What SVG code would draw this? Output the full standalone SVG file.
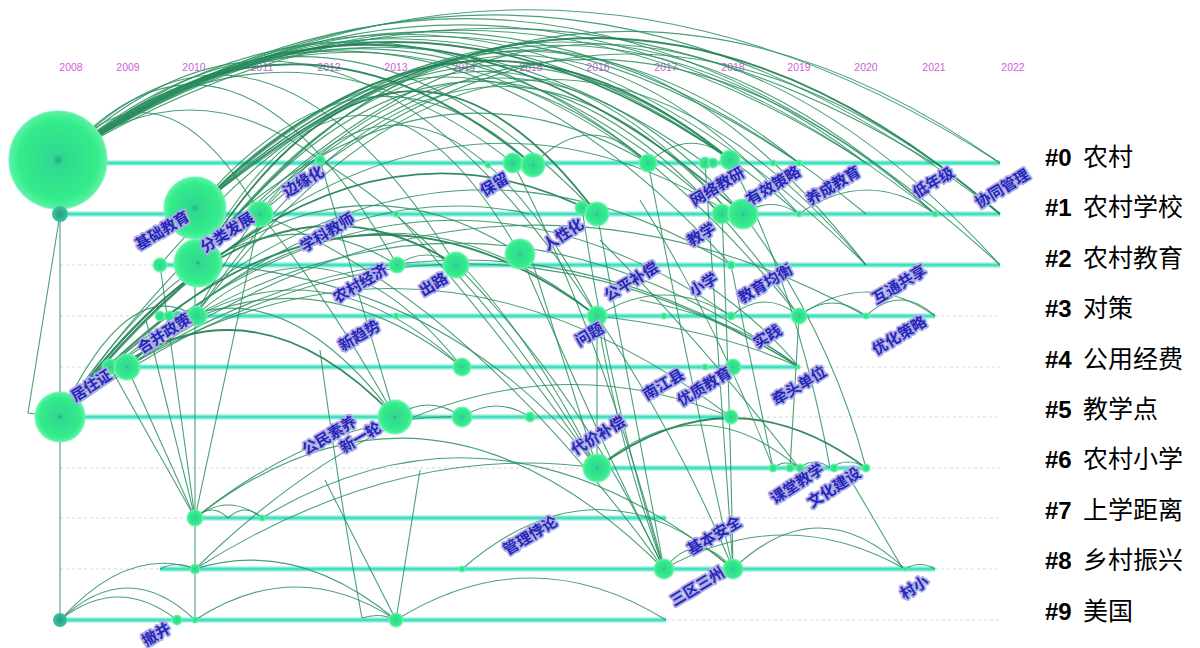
<svg xmlns="http://www.w3.org/2000/svg" width="1200" height="648" viewBox="0 0 1200 648">
<defs>
<radialGradient id="ng" cx="50%" cy="50%" r="50%">
<stop offset="0" stop-color="#2aa88a"/>
<stop offset="0.12" stop-color="#30d890"/>
<stop offset="0.8" stop-color="#34ec8a"/>
<stop offset="1" stop-color="#5cf2a6"/>
</radialGradient>
<radialGradient id="tg" cx="50%" cy="50%" r="50%">
<stop offset="0" stop-color="#2a9a86"/>
<stop offset="1" stop-color="#34c898"/>
</radialGradient>
<style>
.yr{font-family:"Liberation Sans",Arial,sans-serif;font-size:10.5px;fill:#d060d8;text-anchor:middle}
.rs{stroke:#40e0c0;stroke-width:3;fill:none}
.rh{stroke:#c2f5ea;stroke-width:6;fill:none}
.rd{stroke:#c8dcd8;stroke-width:1;stroke-dasharray:3 3;fill:none}
.a{fill:none;stroke:#2a8f60;stroke-width:1.1;opacity:.85}
.t{fill:none;stroke:#1f7d52;stroke-width:1.8;opacity:.9}
.n{fill:url(#ng);stroke:#6af3b0;stroke-width:1.5;stroke-opacity:.6}
.s{fill:url(#tg)}
.lb{font-family:"Noto Sans CJK SC","Noto Sans",sans-serif;font-size:15px;font-weight:bold;fill:#2626b8;stroke:#aeaee6;stroke-width:3.5;stroke-linejoin:round;paint-order:stroke;text-anchor:middle}
.cl{font-family:"Liberation Sans","Noto Sans CJK SC",sans-serif;font-size:24px;fill:#000}
.cz{font-family:"Noto Sans CJK SC",sans-serif;font-size:25px}
</style>
</defs>
<rect width="1200" height="648" fill="#fff"/>
<g id="years">
<text class="yr" x="71" y="71">2008</text>
<text class="yr" x="128" y="71">2009</text>
<text class="yr" x="194" y="71">2010</text>
<text class="yr" x="262" y="71">2011</text>
<text class="yr" x="329" y="71">2012</text>
<text class="yr" x="396" y="71">2013</text>
<text class="yr" x="464" y="71">2014</text>
<text class="yr" x="531" y="71">2015</text>
<text class="yr" x="598" y="71">2016</text>
<text class="yr" x="666" y="71">2017</text>
<text class="yr" x="733" y="71">2018</text>
<text class="yr" x="799" y="71">2019</text>
<text class="yr" x="866" y="71">2020</text>
<text class="yr" x="934" y="71">2021</text>
<text class="yr" x="1013" y="71">2022</text>
</g>
<g id="rows">
<path class="rh" d="M60 163H1000M60 214H1000M160 265H1000M160 316H935M105 367H800M60 417H731M597 468H866M195 518H666M160 569H935M60 620H666"/>
<path class="rs" d="M60 163H1000M60 214H1000M160 265H1000M160 316H935M105 367H800M60 417H731M597 468H866M195 518H666M160 569H935M60 620H666"/>
<path class="rd" d="M60 265H160M60 316H160M935 316H1000M60 367H105M800 367H1000M731 417H1000M60 468H597M866 468H1000M60 518H195M666 518H1000M60 569H160M935 569H1000M666 620H1000"/>
</g>
<g id="connectors">
<path class="a" d="M60 160Q530 -142 1000 163"/>
<path class="a" d="M60 160Q530 -155 1000 214"/>
<path class="a" d="M60 160Q530 -168 1000 265"/>
<path class="a" d="M60 160Q497 -135 935 214"/>
<path class="a" d="M60 160Q463 -101 866 163"/>
<path class="a" d="M60 160Q430 -89 799 163"/>
<path class="t" d="M60 160Q395 -76 731 160"/>
<path class="a" d="M60 160Q463 -121 866 214"/>
<path class="a" d="M60 160Q430 -107 799 214"/>
<path class="t" d="M60 160Q400 -95 743 214"/>
<path class="a" d="M60 160Q354 -57 648 163"/>
<path class="a" d="M60 160Q328 -71 597 214"/>
<path class="t" d="M60 160Q296 -34 533 165"/>
<path class="a" d="M60 160Q430 -138 799 316"/>
<path class="a" d="M60 160Q395 -102 731 265"/>
<path class="a" d="M60 160Q463 -136 866 265"/>
<path class="a" d="M60 160Q286 -17 513 163"/>
<path class="a" d="M60 160Q258 -52 456 265"/>
<path class="a" d="M60 160Q391 -87 722 214"/>
<path class="a" d="M60 160Q190 60 320 160"/>
<path class="a" d="M60 160Q160 43 260 214"/>
<path class="a" d="M60 160Q228 -32 397 265"/>
<path class="a" d="M60 160Q328 -98 597 316"/>
<path class="a" d="M60 160Q382 -67 705 163"/>
<path class="a" d="M60 160Q497 -105 933 163"/>
<path class="a" d="M195 210Q597 -122 1000 163"/>
<path class="t" d="M195 210Q597 -136 1000 214"/>
<path class="a" d="M198 263Q599 -176 1000 265"/>
<path class="a" d="M195 210Q530 -94 866 163"/>
<path class="a" d="M198 263Q498 -126 799 214"/>
<path class="t" d="M195 210Q463 -61 731 160"/>
<path class="a" d="M198 263Q464 -94 731 214"/>
<path class="a" d="M195 210Q421 -30 648 163"/>
<path class="t" d="M198 263Q397 -54 597 214"/>
<path class="a" d="M195 210Q364 8 533 165"/>
<path class="a" d="M198 263Q359 -28 520 254"/>
<path class="a" d="M195 210Q565 -128 935 214"/>
<path class="a" d="M198 263Q532 -164 866 265"/>
<path class="a" d="M198 263Q498 -125 799 316"/>
<path class="a" d="M195 316Q463 -85 731 214"/>
<path class="a" d="M195 316Q396 -66 597 316"/>
<path class="a" d="M260 214Q501 -58 743 214"/>
<path class="a" d="M260 214Q630 -106 1000 214"/>
<path class="a" d="M198 263Q566 -118 935 214"/>
<path class="a" d="M195 316Q530 -130 866 265"/>
<path class="a" d="M160 265Q445 -72 731 160"/>
<path class="a" d="M195 210Q497 -82 799 163"/>
<path class="t" d="M60 417Q328 74 597 214"/>
<path class="a" d="M60 417Q290 104 520 254"/>
<path class="t" d="M60 417Q258 139 456 265"/>
<path class="a" d="M60 417Q395 4 731 214"/>
<path class="t" d="M60 417Q328 113 597 316"/>
<path class="a" d="M60 417Q395 83 731 316"/>
<path class="a" d="M60 417Q261 208 462 367"/>
<path class="a" d="M60 417Q430 138 799 367"/>
<path class="a" d="M60 417Q228 159 397 265"/>
<path class="a" d="M60 417Q128 273 195 316"/>
<path class="a" d="M60 417Q354 -10 648 163"/>
<path class="a" d="M60 417Q463 93 866 316"/>
<path class="t" d="M60 417Q228 243 395 417"/>
<path class="a" d="M60 417Q395 59 731 265"/>
<path class="a" d="M127 367Q362 128 597 316"/>
<path class="a" d="M127 367Q294 213 462 367"/>
<path class="a" d="M127 367Q429 188 731 417"/>
<path class="a" d="M110 367Q252 228 395 417"/>
<path class="a" d="M127 367Q328 170 530 214"/>
<path class="a" d="M127 367Q463 153 799 367"/>
<path class="a" d="M195 316Q328 198 462 367"/>
<path class="a" d="M195 316Q497 148 799 367"/>
<path class="a" d="M597 316Q664 274 731 316"/>
<path class="a" d="M731 316Q765 288 799 316"/>
<path class="a" d="M799 316Q832 290 866 316"/>
<path class="a" d="M866 316Q900 284 935 316"/>
<path class="a" d="M799 316Q867 268 935 316"/>
<path class="t" d="M597 468Q731 368 866 468"/>
<path class="a" d="M597 468Q698 382 799 468"/>
<path class="a" d="M195 518Q228 492 262 518"/>
<path class="a" d="M195 518Q212 502 228 518"/>
<path class="a" d="M228 518Q245 502 262 518"/>
<path class="a" d="M664 569Q698 527 733 569"/>
<path class="a" d="M733 569Q819 487 905 569"/>
<path class="a" d="M664 569Q785 501 905 569"/>
<path class="a" d="M60 620Q128 556 195 620"/>
<path class="a" d="M60 620Q118 574 177 620"/>
<path class="a" d="M195 620Q296 554 396 620"/>
<path class="a" d="M396 620Q531 536 666 620"/>
<path class="a" d="M60 620Q128 545 195 569"/>
<path class="a" d="M195 569Q296 537 396 620"/>
<path class="a" d="M195 569Q463 307 731 417"/>
<path class="a" d="M195 518Q328 412 462 417"/>
<path class="a" d="M160 569Q177 560 195 569"/>
<path class="a" d="M773 468Q786 458 799 468"/>
<path class="a" d="M799 468Q815 456 830 468"/>
<path class="a" d="M830 468Q848 456 866 468"/>
<path class="a" d="M905 569Q920 560 935 569"/>
<path class="a" d="M395 417Q428 393 462 417"/>
<path class="a" d="M462 417Q496 395 530 417"/>
<path class="a" d="M397 265Q426 245 456 265"/>
<path class="a" d="M743 214Q771 195 799 214"/>
<path class="a" d="M799 214Q867 166 935 214"/>
<path class="a" d="M533 165Q590 106 648 163"/>
<path class="a" d="M648 163Q690 125 731 160"/>
<path class="a" d="M195 518Q430 336 664 569"/>
<path class="a" d="M262 518Q497 376 733 569"/>
<path class="a" d="M195 569Q400 440 597 468"/>
<path class="a" d="M597 316L597 468"/>
<path class="a" d="M582 208Q610 400 664 569"/>
<path class="a" d="M597 316Q620 450 664 569"/>
<path class="a" d="M520 254Q590 420 664 569"/>
<path class="a" d="M648 163Q690 380 733 569"/>
<path class="a" d="M705 163Q720 370 733 569"/>
<path class="a" d="M722 214Q730 400 733 569"/>
<path class="a" d="M597 316Q680 440 733 569"/>
<path class="a" d="M597 214L664 569"/>
<path class="a" d="M456 265Q580 390 664 569"/>
<path class="a" d="M731 265L773 468"/>
<path class="a" d="M799 316L790 468"/>
<path class="a" d="M731 160Q800 300 830 468"/>
<path class="a" d="M743 214Q830 330 866 468"/>
<path class="a" d="M845 470L903 569"/>
<path class="a" d="M127 367L195 518"/>
<path class="a" d="M110 367L195 518"/>
<path class="a" d="M160 265L195 518"/>
<path class="a" d="M260 214L195 518"/>
<path class="a" d="M146 320L195 518"/>
<path class="a" d="M195 210L195 620"/>
<path class="a" d="M60 160L60 620"/>
<path class="a" d="M60 214L28 413L60 417"/>
<path class="a" d="M320 350Q340 500 362 618"/>
<path class="a" d="M362 618Q380 612 396 620"/>
<path class="a" d="M396 620L420 470"/>
<path class="a" d="M396 620L325 480"/>
<path class="a" d="M320 160Q360 300 395 417"/>
<path class="a" d="M260 214Q330 300 395 417"/>
<path class="a" d="M320 160Q470 250 597 468"/>
<path class="a" d="M198 263Q450 280 597 468"/>
<path class="a" d="M260 214Q470 300 664 569"/>
<path class="a" d="M462 569Q600 450 733 569"/>
<path class="a" d="M530 254L597 468"/>
<path class="a" d="M462 265Q540 350 597 468"/>
<path class="a" d="M640 200Q720 330 773 468"/>
<path class="a" d="M600 240Q700 340 799 468"/>
<path class="a" d="M640 300Q740 320 799 367"/>
<path class="a" d="M700 280Q760 320 799 367"/>
<path class="a" d="M597 316Q720 330 799 367"/>
<path class="a" d="M396 214Q500 330 597 468"/>
<path class="a" d="M513 163Q600 330 664 569"/>
</g>
<g id="nodes">
<g id="n-row0">
<circle class="n" cx="58" cy="160" r="49"/>
<circle class="n" cx="320" cy="160" r="5"/>
<circle class="n" cx="488" cy="165" r="3"/>
<circle class="n" cx="513" cy="163" r="10"/>
<circle class="n" cx="533" cy="165" r="12"/>
<circle class="n" cx="648" cy="163" r="9"/>
<circle class="n" cx="705" cy="163" r="6"/>
<circle class="n" cx="713" cy="163" r="5"/>
<circle class="n" cx="730" cy="160" r="10"/>
<circle class="n" cx="773" cy="163" r="3"/>
<circle class="n" cx="799" cy="163" r="3"/>
</g>
<g id="n-row1">
<circle class="s" cx="60" cy="214" r="8"/>
<circle class="n" cx="195" cy="208" r="31"/>
<circle class="n" cx="260" cy="214" r="13"/>
<circle class="n" cx="396" cy="214" r="3"/>
<circle class="n" cx="582" cy="208" r="7"/>
<circle class="n" cx="597" cy="214" r="12"/>
<circle class="n" cx="722" cy="214" r="10"/>
<circle class="n" cx="743" cy="214" r="15"/>
<circle class="n" cx="799" cy="214" r="3"/>
<circle class="n" cx="935" cy="214" r="3"/>
</g>
<g id="n-row2">
<circle class="n" cx="160" cy="265" r="7"/>
<circle class="n" cx="198" cy="263" r="24"/>
<circle class="n" cx="397" cy="265" r="8"/>
<circle class="n" cx="456" cy="265" r="13"/>
<circle class="n" cx="520" cy="254" r="15"/>
<circle class="n" cx="731" cy="265" r="4"/>
</g>
<g id="n-row3">
<circle class="n" cx="160" cy="316" r="5"/>
<circle class="n" cx="169" cy="316" r="5"/>
<circle class="n" cx="178" cy="316" r="5"/>
<circle class="n" cx="197" cy="316" r="10"/>
<circle class="n" cx="396" cy="316" r="3"/>
<circle class="n" cx="597" cy="316" r="10"/>
<circle class="n" cx="664" cy="316" r="3"/>
<circle class="n" cx="731" cy="316" r="4"/>
<circle class="n" cx="799" cy="316" r="8"/>
<circle class="n" cx="866" cy="316" r="3"/>
</g>
<g id="n-row4">
<circle class="n" cx="110" cy="367" r="8"/>
<circle class="n" cx="127" cy="367" r="13"/>
<circle class="n" cx="462" cy="367" r="9"/>
<circle class="n" cx="705" cy="367" r="3"/>
<circle class="n" cx="733" cy="367" r="8"/>
<circle class="n" cx="798" cy="367" r="2"/>
</g>
<g id="n-row5">
<circle class="n" cx="60" cy="417" r="25"/>
<circle class="n" cx="395" cy="417" r="17"/>
<circle class="n" cx="462" cy="417" r="10"/>
<circle class="n" cx="530" cy="417" r="5"/>
<circle class="n" cx="731" cy="417" r="7"/>
</g>
<g id="n-row6">
<circle class="n" cx="597" cy="468" r="14"/>
<circle class="n" cx="773" cy="468" r="4"/>
<circle class="n" cx="790" cy="468" r="4"/>
<circle class="n" cx="800" cy="468" r="4"/>
<circle class="n" cx="834" cy="468" r="4"/>
<circle class="n" cx="866" cy="468" r="4"/>
</g>
<g id="n-row7">
<circle class="n" cx="195" cy="518" r="8"/>
<circle class="n" cx="262" cy="518" r="3"/>
</g>
<g id="n-row8">
<circle class="n" cx="195" cy="569" r="5"/>
<circle class="n" cx="462" cy="569" r="3"/>
<circle class="n" cx="664" cy="569" r="10"/>
<circle class="n" cx="733" cy="569" r="10"/>
<circle class="n" cx="905" cy="569" r="2"/>
</g>
<g id="n-row9">
<circle class="s" cx="60" cy="620" r="7"/>
<circle class="n" cx="177" cy="620" r="5"/>
<circle class="n" cx="195" cy="620" r="3"/>
<circle class="n" cx="396" cy="620" r="7"/>
</g>
</g>
<g id="labels">
<text class="lb" transform="translate(165,235) rotate(-31)">基础教育</text>
<text class="lb" transform="translate(230,237) rotate(-33)">分类发展</text>
<text class="lb" transform="translate(306,186) rotate(-31)">边缘化</text>
<text class="lb" transform="translate(330,237) rotate(-31)">学科教师</text>
<text class="lb" transform="translate(363,288) rotate(-31)">农村经济</text>
<text class="lb" transform="translate(436,289) rotate(-31)">出路</text>
<text class="lb" transform="translate(497,189) rotate(-31)">保留</text>
<text class="lb" transform="translate(566,239) rotate(-33)">人性化</text>
<text class="lb" transform="translate(634,286) rotate(-31)">公平补偿</text>
<text class="lb" transform="translate(720,191) rotate(-31)">网络教研</text>
<text class="lb" transform="translate(776,190) rotate(-31)">有效策略</text>
<text class="lb" transform="translate(836,190) rotate(-31)">养成教育</text>
<text class="lb" transform="translate(936,187) rotate(-31)">低年级</text>
<text class="lb" transform="translate(1005,193) rotate(-31)">协同管理</text>
<text class="lb" transform="translate(704,239) rotate(-31)">教学</text>
<text class="lb" transform="translate(706,289) rotate(-31)">小学</text>
<text class="lb" transform="translate(768,288) rotate(-31)">教育均衡</text>
<text class="lb" transform="translate(902,289) rotate(-31)">互通共享</text>
<text class="lb" transform="translate(902,340) rotate(-31)">优化策略</text>
<text class="lb" transform="translate(770,341) rotate(-31)">实践</text>
<text class="lb" transform="translate(802,390) rotate(-31)">牵头单位</text>
<text class="lb" transform="translate(666,389) rotate(-31)">南江县</text>
<text class="lb" transform="translate(707,391) rotate(-31)">优质教育</text>
<text class="lb" transform="translate(592,339) rotate(-31)">问题</text>
<text class="lb" transform="translate(601,440) rotate(-31)">代价补偿</text>
<text class="lb" transform="translate(167,338) rotate(-33)">合并政策</text>
<text class="lb" transform="translate(362,340) rotate(-31)">新趋势</text>
<text class="lb" transform="translate(94,390) rotate(-33)">居住证</text>
<text class="lb" transform="translate(332,440) rotate(-31)">公民素养</text>
<text class="lb" transform="translate(363,442) rotate(-31)">新一轮</text>
<text class="lb" transform="translate(800,488) rotate(-33)">课堂教学</text>
<text class="lb" transform="translate(837,492) rotate(-33)">文化建设</text>
<text class="lb" transform="translate(533,540) rotate(-31)">管理悖论</text>
<text class="lb" transform="translate(717,540) rotate(-31)">基本安全</text>
<text class="lb" transform="translate(700,591) rotate(-31)">三区三州</text>
<text class="lb" transform="translate(917,592) rotate(-31)">村小</text>
<text class="lb" transform="translate(159,639) rotate(-31)">撤并</text>
</g>
<g id="clusters">
<text class="cl" y="166"><tspan x="1045" font-weight="bold">#0</tspan><tspan class="cz" x="1083">农村</tspan></text>
<text class="cl" y="216"><tspan x="1045" font-weight="bold">#1</tspan><tspan class="cz" x="1083">农村学校</tspan></text>
<text class="cl" y="267"><tspan x="1045" font-weight="bold">#2</tspan><tspan class="cz" x="1083">农村教育</tspan></text>
<text class="cl" y="317"><tspan x="1045" font-weight="bold">#3</tspan><tspan class="cz" x="1083">对策</tspan></text>
<text class="cl" y="368"><tspan x="1045" font-weight="bold">#4</tspan><tspan class="cz" x="1083">公用经费</tspan></text>
<text class="cl" y="418"><tspan x="1045" font-weight="bold">#5</tspan><tspan class="cz" x="1083">教学点</tspan></text>
<text class="cl" y="468"><tspan x="1045" font-weight="bold">#6</tspan><tspan class="cz" x="1083">农村小学</tspan></text>
<text class="cl" y="519"><tspan x="1045" font-weight="bold">#7</tspan><tspan class="cz" x="1083">上学距离</tspan></text>
<text class="cl" y="569"><tspan x="1045" font-weight="bold">#8</tspan><tspan class="cz" x="1083">乡村振兴</tspan></text>
<text class="cl" y="620"><tspan x="1045" font-weight="bold">#9</tspan><tspan class="cz" x="1083">美国</tspan></text>
</g>
</svg>
